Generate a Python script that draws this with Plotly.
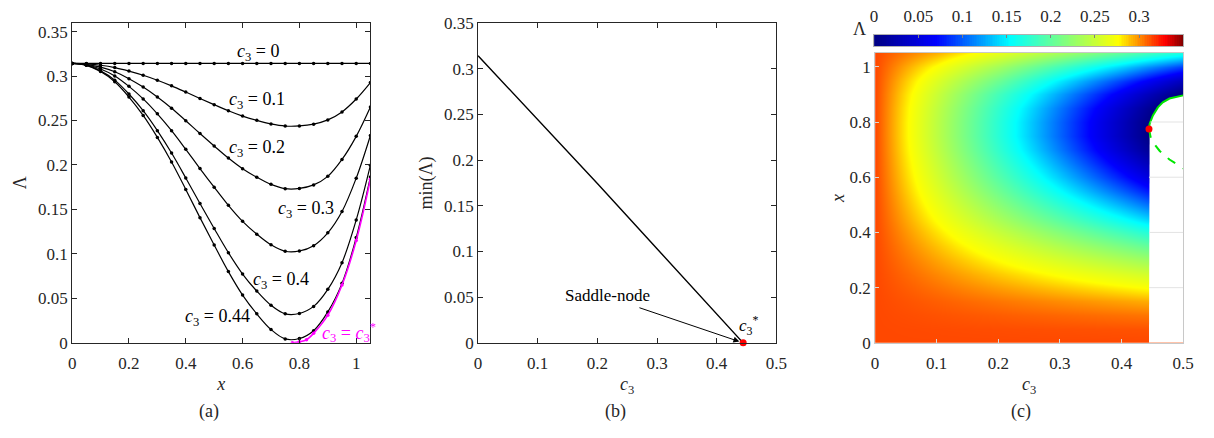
import numpy as np
import plotly.graph_objects as go

W, H = 1214, 438

# ---------------- data ----------------
x_grid = [0.0, 0.05, 0.1, 0.15, 0.2, 0.25, 0.3, 0.35, 0.4, 0.45, 0.5,
          0.55, 0.6, 0.65, 0.7, 0.75, 0.8, 0.85, 0.9, 0.95, 1.0, 1.05]

lam_c3_000 = [0.3142, 0.3142, 0.3142, 0.3142, 0.3142, 0.3142, 0.3142, 0.3142, 0.3142, 0.3142, 0.3142,
              0.3142, 0.3142, 0.3142, 0.3142, 0.3142, 0.3142, 0.3142, 0.3142, 0.3142, 0.3142, 0.3142]
lam_c3_010 = [0.3142, 0.3137, 0.3121, 0.3095, 0.3056, 0.3009, 0.2953, 0.2890, 0.2820, 0.2748, 0.2678,
              0.2610, 0.2550, 0.2502, 0.2462, 0.2438, 0.2439, 0.2459, 0.2507, 0.2597, 0.2742, 0.2927]
lam_c3_020 = [0.3142, 0.3132, 0.3100, 0.3048, 0.2970, 0.2876, 0.2764, 0.2638, 0.2498, 0.2354, 0.2214,
              0.2078, 0.1958, 0.1862, 0.1782, 0.1734, 0.1736, 0.1776, 0.1872, 0.2062, 0.2322, 0.2652]
lam_c3_030 = [0.3142, 0.3127, 0.3079, 0.3001, 0.2884, 0.2743, 0.2575, 0.2386, 0.2176, 0.1960, 0.1750,
              0.1546, 0.1366, 0.1222, 0.1102, 0.1030, 0.1033, 0.1093, 0.1237, 0.1477, 0.1852, 0.2332]
lam_c3_040 = [0.3142, 0.3122, 0.3058, 0.2954, 0.2798, 0.2610, 0.2386, 0.2134, 0.1854, 0.1566, 0.1286,
              0.1014, 0.0774, 0.0582, 0.0422, 0.0326, 0.0330, 0.0410, 0.0602, 0.0902, 0.1382, 0.1998]
lam_c3_044 = [0.3142, 0.3120, 0.3050, 0.2935, 0.2764, 0.2557, 0.2310, 0.2033, 0.1725, 0.1408, 0.1100,
              0.0801, 0.0537, 0.0326, 0.0150, 0.0044, 0.0049, 0.0137, 0.0348, 0.0669, 0.1184, 0.1866]
lam_c3_050 = [0.3142, 0.3117, 0.3037, 0.2907, 0.2712, 0.2477, 0.2197, 0.1882, 0.1532, 0.1172, 0.0822,
              0.0482, 0.0182, -0.0058, -0.0258, -0.0378, -0.0373, -0.0273, -0.0033, 0.0317, 0.0892, 0.1667]

# critical curve c3 = c3*
c3_star = 0.4444
x_star_curve = [0.775, 0.8, 0.825, 0.85, 0.9, 0.95, 1.0, 1.05]
lam_star_curve = [0.0, 0.0012, 0.0035, 0.0107, 0.0311, 0.0650, 0.1150, 0.1840]

curve_c3 = [0.0, 0.1, 0.2, 0.3, 0.4, 0.44]
curve_lams = [lam_c3_000, lam_c3_010, lam_c3_020, lam_c3_030, lam_c3_040, lam_c3_044]
curve_labels = ["0", "0.1", "0.2", "0.3", "0.4", "0.44"]

# panel (b): minimum of Lambda vs c3
min_c3 = [0.0, 0.1, 0.2, 0.3, 0.4, 0.44, 0.4444]
min_lam = [0.3142, 0.2445, 0.1745, 0.1030, 0.0319, 0.0030, 0.0]

# panel (c): heatmap columns and fold boundary
hm_c3 = [0.0, 0.1, 0.2, 0.3, 0.4, 0.44, 0.5]
hm_cols = [lam_c3_000, lam_c3_010, lam_c3_020, lam_c3_030, lam_c3_040, lam_c3_044, lam_c3_050]
x_fold = 0.775
upper_c3 = [0.4444, 0.4455, 0.4508, 0.4588, 0.4668, 0.4776, 0.5]
upper_x = [0.775, 0.794, 0.824, 0.853, 0.871, 0.885, 0.8965]
lower_c3 = [0.4444, 0.448, 0.4615, 0.4776, 0.4968, 0.5]
lower_x = [0.775, 0.735, 0.696, 0.664, 0.637, 0.632]

cb_ticks = [0, 0.05, 0.1, 0.15, 0.2, 0.25, 0.3]
cb_max = 0.35

# ---------------- styling helpers ----------------
FONT = "'Liberation Serif', 'Times New Roman', 'DejaVu Serif', serif"
TXT = "#262626"
jet_like = [[0.0, "rgb(0,0,130)"], [0.2, "rgb(0,0,255)"], [0.44, "rgb(0,255,255)"],
            [0.79, "rgb(255,255,0)"], [0.94, "rgb(255,0,0)"], [1.0, "rgb(128,0,0)"]]


def fx(p):
    return p / W


def fy(p):
    return 1 - p / H


fig = go.Figure()

# ---------------- panel (a) ----------------
for lam in curve_lams:
    fig.add_trace(go.Scatter(x=x_grid, y=lam, mode="lines+markers",
                             line=dict(color="black", width=1.2, shape="spline"),
                             marker=dict(size=3.5, color="black"),
                             xaxis="x", yaxis="y", showlegend=False, hoverinfo="skip"))
fig.add_trace(go.Scatter(x=x_star_curve, y=lam_star_curve, mode="lines+markers",
                         line=dict(color="rgb(255,0,255)", width=1.6, shape="spline"),
                         marker=dict(size=3.5, color="rgb(255,0,255)"),
                         xaxis="x", yaxis="y", showlegend=False, hoverinfo="skip"))

# ---------------- panel (b) ----------------
fig.add_trace(go.Scatter(x=min_c3, y=min_lam, mode="lines",
                         line=dict(color="black", width=1.4),
                         xaxis="x2", yaxis="y2", showlegend=False, hoverinfo="skip"))
fig.add_trace(go.Scatter(x=[c3_star], y=[0.0], mode="markers",
                         marker=dict(size=7, color="red"),
                         xaxis="x2", yaxis="y2", showlegend=False, hoverinfo="skip",
                         cliponaxis=False))

# ---------------- panel (c) ----------------
z = np.array(hm_cols).T
fig.add_trace(go.Heatmap(x=hm_c3, y=x_grid, z=z, zmin=0, zmax=cb_max, zsmooth="best",
                         colorscale=jet_like, showscale=False,
                         xaxis="x3", yaxis="y3", hoverinfo="skip"))
poly_c3 = [c3_star] + upper_c3 + [upper_c3[-1], c3_star]
poly_x = [0.0] + upper_x + [0.0, 0.0]
fig.add_trace(go.Scatter(x=poly_c3, y=poly_x, mode="lines", fill="toself",
                         fillcolor="white", line=dict(color="white", width=0),
                         xaxis="x3", yaxis="y3", showlegend=False, hoverinfo="skip"))
fig.add_trace(go.Scatter(x=upper_c3, y=upper_x, mode="lines",
                         line=dict(color="rgb(0,230,0)", width=2),
                         xaxis="x3", yaxis="y3", showlegend=False, hoverinfo="skip"))
fig.add_trace(go.Scatter(x=lower_c3, y=lower_x, mode="lines",
                         line=dict(color="rgb(0,230,0)", width=2, dash="dash"),
                         xaxis="x3", yaxis="y3", showlegend=False, hoverinfo="skip"))
fig.add_trace(go.Scatter(x=[c3_star], y=[x_fold], mode="markers",
                         marker=dict(size=7, color="red"),
                         xaxis="x3", yaxis="y3", showlegend=False, hoverinfo="skip"))

# colour bar drawn on its own axis (labels on top)
cb_levels = np.linspace(0, cb_max, 176)
fig.add_trace(go.Heatmap(x=cb_levels, y=[0, 1], z=[cb_levels, cb_levels], zmin=0, zmax=cb_max,
                         colorscale=jet_like, showscale=False,
                         xaxis="x4", yaxis="y4", hoverinfo="skip"))

# ---------------- axes ----------------
tickfont = dict(family=FONT, size=17, color=TXT)
titlefont = dict(family=FONT, size=18, color=TXT)
box = dict(showline=True, linecolor=TXT, linewidth=1, mirror="ticks", ticks="inside",
           ticklen=5, tickcolor=TXT, tickfont=tickfont, showgrid=False, zeroline=False)
lbox = dict(showline=True, linecolor="#c8c8c8", linewidth=1, mirror=True, ticks="inside",
            ticklen=4, tickcolor="#d8d8d8", tickfont=tickfont, showgrid=False, zeroline=False)

fig.update_layout(
    xaxis=dict(domain=[fx(69), fx(371)], range=[0, 1.05], anchor="y", ticklabelstandoff=5,
               tickvals=[0, 0.2, 0.4, 0.6, 0.8, 1],
               title=dict(text="<i>x</i>", font=titlefont, standoff=5), **box),
    yaxis=dict(domain=[fy(349), fy(14.3)], range=[0, 0.36], anchor="x",
               tickvals=[0, 0.05, 0.1, 0.15, 0.2, 0.25, 0.3, 0.35],
               title=dict(text="Λ", font=titlefont, standoff=6), **box),
    xaxis2=dict(domain=[fx(480), fx(782)], range=[0, 0.5], anchor="y2", ticklabelstandoff=5,
                tickvals=[0, 0.1, 0.2, 0.3, 0.4, 0.5],
                title=dict(text="<i>c</i><sub>3</sub>", font=titlefont, standoff=5), **box),
    yaxis2=dict(domain=[fy(349), fy(14.7)], range=[0, 0.35], anchor="x2",
                tickvals=[0, 0.05, 0.1, 0.15, 0.2, 0.25, 0.3, 0.35],
                title=dict(text="min(Λ)", font=titlefont, standoff=6), **box),
    xaxis3=dict(domain=[fx(882), fx(1194)], range=[0, 0.5], anchor="y3", ticklabelstandoff=5,
                tickvals=[0, 0.1, 0.2, 0.3, 0.4, 0.5],
                title=dict(text="<i>c</i><sub>3</sub>", font=titlefont, standoff=5), **lbox),
    yaxis3=dict(domain=[fy(349), fy(46)], range=[0, 1.05], anchor="x3",
                tickvals=[0, 0.2, 0.4, 0.6, 0.8, 1],
                title=dict(text="<i>x</i>", font=titlefont, standoff=0), **lbox),
    xaxis4=dict(domain=[fx(881), fx(1194)], range=[0, cb_max], anchor="y4", side="top",
                tickvals=cb_ticks, showline=True, linecolor="#b0b0b0", mirror=True,
                ticks="inside", ticklen=3, tickcolor="#808080", tickfont=tickfont,
                ticklabelstandoff=5, showgrid=False, zeroline=False),
    yaxis4=dict(domain=[fy(39), fy(26.7)], range=[0, 1], anchor="x4", showticklabels=False,
                ticks="", showline=True, linecolor="#b0b0b0", mirror=True,
                showgrid=False, zeroline=False),
    width=W, height=H, margin=dict(l=0, r=0, t=0, b=0),
    paper_bgcolor="white", plot_bgcolor="white",
)

# faint grid lines visible in the blank region of panel (c)
grid_vals = [0.2, 0.4, 0.6, 0.8]
for g in grid_vals:
    start = c3_star if g < x_fold else float(np.interp(g, upper_x, upper_c3))
    fig.add_shape(type="line", xref="x3", yref="y3", x0=start, x1=0.5, y0=g, y1=g,
                  line=dict(color="#e3e3e3", width=1), layer="above")

# ---------------- annotations ----------------
ann = []
label_pos = [(0.654, 0.327), (0.651, 0.2727), (0.649, 0.219), (0.822, 0.150),
             (0.735, 0.070), (0.512, 0.028)]
for lab, (ax_, ay_) in zip(curve_labels, label_pos):
    ann.append(dict(x=ax_, y=ay_, xref="x", yref="y", showarrow=False,
                    text="<i>c</i><sub>3</sub> = " + lab,
                    font=dict(family=FONT, size=18, color="black")))
ann.append(dict(x=0.975, y=0.0115, xref="x", yref="y", showarrow=False,
                text="<i>c</i><sub>3</sub> = <i>c</i><sub>3</sub><sup>*</sup>",
                font=dict(family=FONT, size=18, color="rgb(255,0,255)")))

ann.append(dict(x=0.2165, y=0.0513, xref="x2", yref="y2", showarrow=False,
                text="Saddle-node", font=dict(family=FONT, size=17, color="black")))
ann.append(dict(x=c3_star, y=0.0, xref="x2", yref="y2", axref="x2", ayref="y2",
                ax=0.268, ay=0.039, text="", showarrow=True, arrowhead=2, arrowsize=1.2,
                arrowwidth=1, arrowcolor="black", standoff=4))
ann.append(dict(x=0.4535, y=0.0185, xref="x2", yref="y2", showarrow=False,
                text="<i>c</i><sub>3</sub><sup>*</sup>",
                font=dict(family=FONT, size=17, color="black")))

ann.append(dict(x=fx(866), y=fy(21), xref="paper", yref="paper", showarrow=False,
                xanchor="center", yanchor="middle",
                text="Λ", font=dict(family=FONT, size=18, color=TXT)))

for lab, cx in zip(["(a)", "(b)", "(c)"], [208, 619, 1030]):
    ann.append(dict(x=fx(cx), y=fy(421), xref="paper", yref="paper", showarrow=False,
                    xanchor="center", yanchor="middle",
                    text=lab, font=dict(family=FONT, size=18, color=TXT)))

fig.update_layout(annotations=ann)

fig.write_html("out.html")
